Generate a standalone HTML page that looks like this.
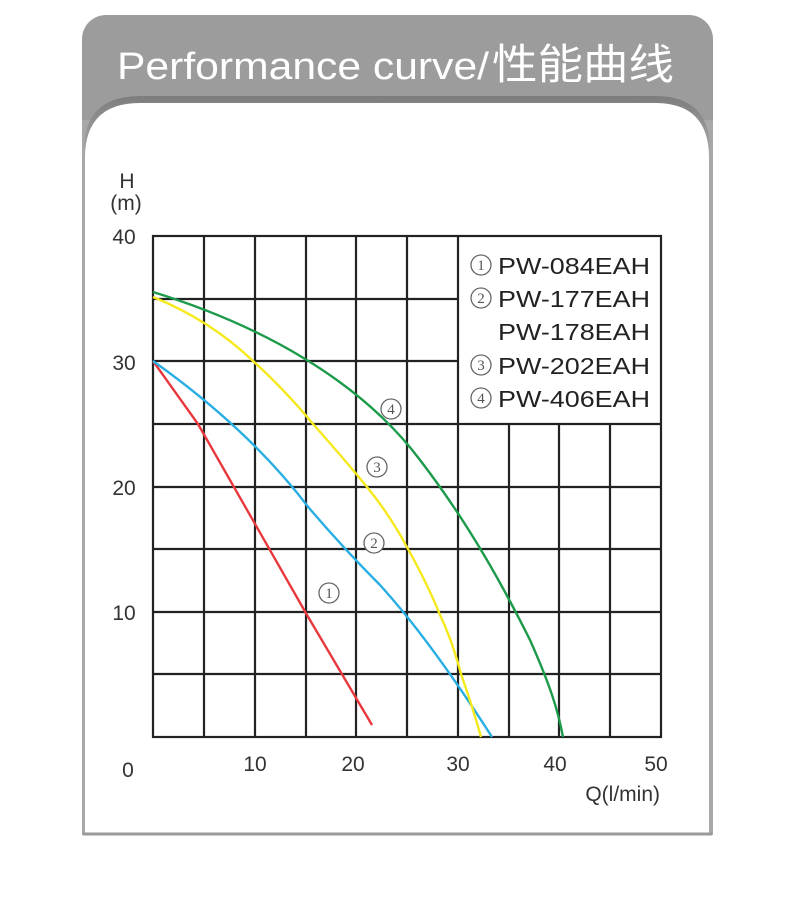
<!DOCTYPE html>
<html><head><meta charset="utf-8"><style>
body{margin:0;background:#fff;}
svg{display:block}
</style></head><body>
<svg width="790" height="906" viewBox="0 0 790 906" xmlns="http://www.w3.org/2000/svg">
<defs><linearGradient id="sh" x1="0" y1="0" x2="0" y2="1"><stop offset="0" stop-color="#7d7d7d"/><stop offset="1" stop-color="#a5a5a5"/></linearGradient></defs>
<rect x="82" y="15" width="631" height="820" rx="24" fill="#9c9c9c"/>
<rect x="82" y="120" width="631" height="715" fill="#a8a8a8"/>
<path d="M84 150 Q84 96 140 96 L655 96 Q710 96 710 150 Z" fill="url(#sh)"/>
<path d="M85 835 L85 158 Q85 103 140 103 L655 103 Q709 103 709 158 L709 835 Z" fill="#fff"/>
<line x1="83" y1="834" x2="712" y2="834" stroke="#9a9a9a" stroke-width="3"/>
<text x="117" y="79" font-family="'Liberation Sans',sans-serif" font-size="38" fill="#fff" textLength="372" lengthAdjust="spacingAndGlyphs">Performance curve/</text>
<text x="492" y="79" font-family="'Noto Sans CJK SC',sans-serif" font-size="42" fill="#fff" textLength="182" lengthAdjust="spacingAndGlyphs">性能曲线</text>
<g font-family="'Liberation Sans',sans-serif" font-size="21" fill="#333">
<text x="127" y="188" text-anchor="middle">H</text>
<text x="126" y="210" text-anchor="middle">(m)</text>
<text x="124" y="244" text-anchor="middle">40</text>
<text x="124" y="370" text-anchor="middle">30</text>
<text x="124" y="495" text-anchor="middle">20</text>
<text x="124" y="620" text-anchor="middle">10</text>
<text x="128" y="777" text-anchor="middle">0</text>
<text x="255" y="771" text-anchor="middle">10</text>
<text x="353" y="771" text-anchor="middle">20</text>
<text x="458" y="771" text-anchor="middle">30</text>
<text x="555" y="771" text-anchor="middle">40</text>
<text x="656" y="771" text-anchor="middle">50</text>
<text x="660" y="801" text-anchor="end">Q(l/min)</text>
</g>
<g stroke="#222" stroke-width="2.2" fill="none">
<rect x="153" y="236" width="508" height="501"/>
<path d="M204 236V737M255 236V737M306 236V737M356 236V737M407 236V737M458 236V737M509 424V737M559 424V737M610 424V737"/>
<path d="M153 299H458M153 361H458M153 424H661M153 487H661M153 549H661M153 612H661M153 674H661"/>
</g>
<g fill="none" stroke-width="2.4">
<path d="M153 361 L198 424 L307 615 L372 725" stroke="#e8383d"/>
<path d="M153 361 Q250 430 309 508 Q345 550 380 585 Q430 640 492 737" stroke="#29aee3"/>
<path d="M153 297 Q210 320 253 361 Q285 390 313 424 Q345 460 367 487 Q390 515 408 549 Q428 585 440 615 Q452 640 461 674 Q472 705 481 737" stroke="#f5e91c"/>
<path d="M153 292 C260 325 360 380 420 460 C470 525 505 590 530 640 C550 685 558 710 563 737" stroke="#1d9a4a"/>
</g>
<g font-family="'Liberation Serif',serif" font-size="15" fill="#555" text-anchor="middle" stroke-width="1.3">
<circle cx="391" cy="409" r="10" fill="#fff" stroke="#666"/><text x="391" y="414">4</text>
<circle cx="377" cy="467" r="10" fill="#fff" stroke="#666"/><text x="377" y="472">3</text>
<circle cx="374" cy="543" r="10" fill="#fff" stroke="#666"/><text x="374" y="548">2</text>
<circle cx="329" cy="593" r="10" fill="#fff" stroke="#666"/><text x="329" y="598">1</text>
<circle cx="481" cy="265" r="10" fill="#fff" stroke="#666"/><text x="481" y="270">1</text>
<circle cx="481" cy="298" r="10" fill="#fff" stroke="#666"/><text x="481" y="303">2</text>
<circle cx="481" cy="365" r="10" fill="#fff" stroke="#666"/><text x="481" y="370">3</text>
<circle cx="481" cy="398" r="10" fill="#fff" stroke="#666"/><text x="481" y="403">4</text>
</g>
<g font-family="'Liberation Sans',sans-serif" font-size="23" fill="#222">
<text x="498" y="274" textLength="152" lengthAdjust="spacingAndGlyphs">PW-084EAH</text>
<text x="498" y="307" textLength="152" lengthAdjust="spacingAndGlyphs">PW-177EAH</text>
<text x="498" y="340" textLength="152" lengthAdjust="spacingAndGlyphs">PW-178EAH</text>
<text x="498" y="374" textLength="152" lengthAdjust="spacingAndGlyphs">PW-202EAH</text>
<text x="498" y="407" textLength="152" lengthAdjust="spacingAndGlyphs">PW-406EAH</text>
</g>
</svg>
</body></html>
